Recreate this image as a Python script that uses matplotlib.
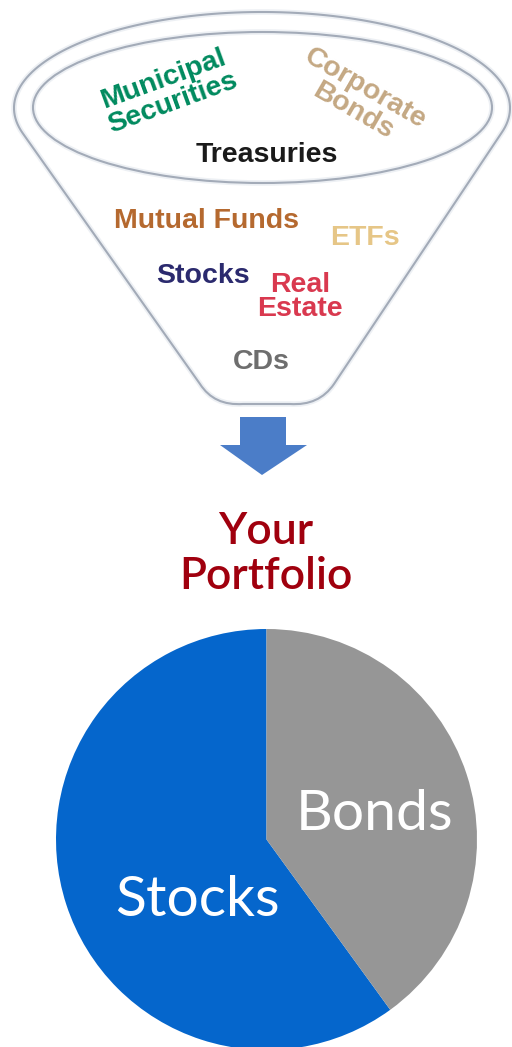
import matplotlib.pyplot as plt
import numpy as np
from matplotlib.path import Path
from matplotlib.patches import PathPatch, Ellipse, Polygon

# funnel contents
funnel_labels = ["Municipal\nSecurities", "Corporate\nBonds", "Treasuries",
                 "Mutual Funds", "ETFs", "Stocks", "Real\nEstate", "CDs"]
funnel_colors = ["#008a5e", "#c4a883", "#1a1a1a", "#b5692f",
                 "#e6c687", "#2b2a6e", "#d9394f", "#6e6e6e"]

# portfolio split
slice_labels = ["Stocks", "Bonds"]
slice_values = [60, 40]
slice_colors = ["#0566cc", "#969696"]

title = "Your\nPortfolio"

W, H = 512, 1047
fig = plt.figure(figsize=(W / 100, H / 100), dpi=100)
ax = fig.add_axes([0, 0, 1, 1])
ax.set_xlim(0, W)
ax.set_ylim(H, 0)
ax.axis('off')

line_col = '#a3abb8'
halo_col = '#edf0f4'

# outer funnel outline: top half of an ellipse, sides and rounded bottom
cx, cy, a, b = 262, 108, 248, 96
t = np.radians(np.linspace(195, -15, 120))
top = np.column_stack([cx + a * np.cos(t), cy - b * np.sin(t)])
verts = list(map(tuple, top))
codes = [Path.MOVETO] + [Path.LINETO] * (len(verts) - 1)
verts += [(334, 384), (319, 406), (290, 404), (243, 404), (214, 406), (200, 384), tuple(top[0])]
codes += [Path.LINETO, Path.CURVE3, Path.CURVE3, Path.LINETO, Path.CURVE3, Path.CURVE3, Path.LINETO]
outline = Path(verts, codes)
ax.add_patch(PathPatch(outline, fill=False, ec=halo_col, lw=4))
ax.add_patch(PathPatch(outline, fill=False, ec=line_col, lw=1.5))

inner = dict(xy=(262.5, 107.5), width=459, height=151, angle=0, fill=False)
ax.add_patch(Ellipse(ec=halo_col, lw=4, **inner))
ax.add_patch(Ellipse(ec=line_col, lw=1.5, **inner))

# label layout: (x, y, rotation)
layout = [(168, 91, 20), (359, 100, -30), (267, 155, 0), (207, 221, 0),
          (365, 238, 0), (203, 276, 0), (300, 297, 0), (261, 362, 0)]
for lab, col, (x, y, rot) in zip(funnel_labels, funnel_colors, layout):
    ax.text(x, y, lab, color=col, fontsize=20.5, fontweight='bold',
            family='Liberation Sans', ha='center', va='center',
            rotation=rot, rotation_mode='anchor', linespacing=0.95,
            multialignment='center')

# arrow
arrow = [(240, 417), (286, 417), (286, 445), (307, 445), (262, 475),
         (220, 445), (240, 445)]
ax.add_patch(Polygon(arrow, closed=True, fc='#4b7dc8', ec='none'))

ax.text(266, 554, title, color='#a0000e', fontsize=32, fontweight='semibold',
        family='Lato', ha='center', va='center', linespacing=1.1)

# pie
pcx, pcy, r = 266.5, 839.5, 210.5
pax = fig.add_axes([(pcx - r) / W, (H - pcy - r) / H, 2 * r / W, 2 * r / H])
pax.pie(slice_values, colors=slice_colors, startangle=90, counterclock=True,
        wedgeprops=dict(linewidth=0))
pax.set_xlim(-1, 1)
pax.set_ylim(-1, 1)
pax.set_aspect('equal')
pax.axis('off')

label_pos = [(-0.33, -0.29), (0.515, 0.12)]
for lab, (x, y) in zip(slice_labels, label_pos):
    pax.text(x, y, lab, color='white', fontsize=41, family='Lato',
             ha='center', va='center')

fig.savefig('out.png', dpi=100)
